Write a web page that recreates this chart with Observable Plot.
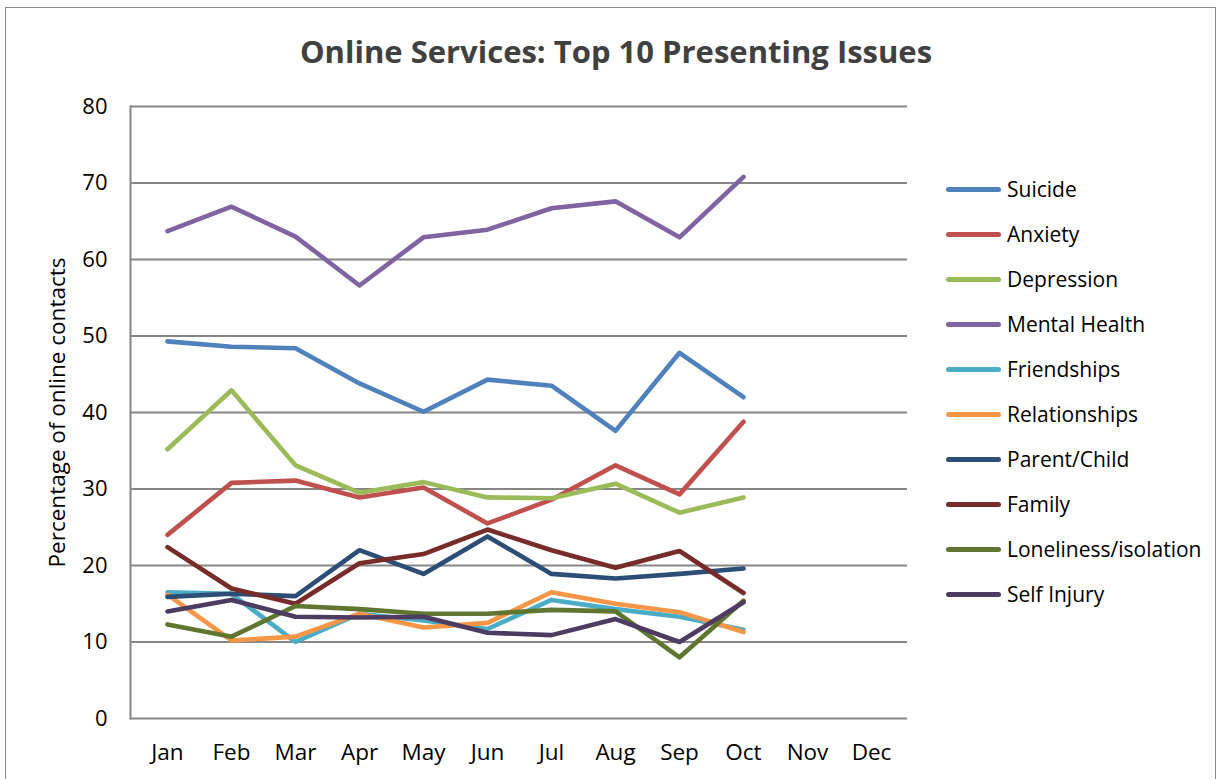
<!DOCTYPE html>
<html>
<head>
<meta charset="utf-8">
<script src="https://cdn.jsdelivr.net/npm/d3@7"></script>
<script src="https://cdn.jsdelivr.net/npm/@observablehq/plot@0.6"></script>
<style>
  html, body { margin: 0; padding: 0; background: #fff; }
  #wrap { position: relative; width: 1220px; height: 779px; overflow: hidden; font-family: "Open Sans", sans-serif; }
  #border { position: absolute; left: 5px; top: 7px; width: 1211px; height: 800px; border: 1.5px solid #8a8a8a; box-sizing: border-box; }
  #title { position: absolute; left: 616px; top: 51px; transform: translate(-50%, -50%); font-weight: 700; font-size: 31px; color: #404040; white-space: nowrap; }
  #chart { position: absolute; left: 0; top: 0; }
  #legend { position: absolute; left: 946px; top: 0; }
  .item { position: absolute; left: 0; height: 30px; display: flex; align-items: center; white-space: nowrap; font-size: 21px; color: #000; }
  .sw { width: 55px; height: 5px; border-radius: 3px; margin-right: 6px; }
</style>
</head>
<body>
<div id="wrap">
  <div id="border"></div>
  <div id="chart"></div>
  <div id="title">Online Services: Top 10 Presenting Issues</div>
  <div id="legend"></div>
</div>
<script>
const months = ["Jan","Feb","Mar","Apr","May","Jun","Jul","Aug","Sep","Oct","Nov","Dec"];
const seriesNames = ["Suicide","Anxiety","Depression","Mental Health","Friendships","Relationships","Parent/Child","Family","Loneliness/isolation","Self Injury"];
const seriesColors = ["#4F81BD","#C0504D","#9BBB59","#8064A2","#4BACC6","#F79646","#2C4D75","#772C2A","#5F7530","#4D3B62"];
const yTicks = [0,10,20,30,40,50,60,70,80];

// Jan..Oct values (Nov, Dec have no data)
const suicide       = [49.3, 48.6, 48.4, 43.8, 40.1, 44.3, 43.5, 37.6, 47.8, 42.0];
const anxiety       = [24.0, 30.8, 31.1, 28.9, 30.2, 25.5, 28.6, 33.1, 29.3, 38.8];
const depression    = [35.2, 42.9, 33.1, 29.5, 30.9, 28.9, 28.8, 30.7, 26.9, 28.9];
const mentalHealth  = [63.7, 66.9, 63.0, 56.6, 62.9, 63.9, 66.7, 67.6, 62.9, 70.8];
const friendships   = [16.5, 16.3, 10.0, 13.7, 12.8, 11.7, 15.5, 14.3, 13.3, 11.6];
const relationships = [16.2, 10.2, 10.7, 13.7, 11.9, 12.5, 16.5, 15.0, 13.9, 11.3];
const parentChild   = [15.9, 16.3, 16.0, 22.0, 18.9, 23.8, 18.9, 18.3, 18.9, 19.6];
const family        = [22.4, 17.0, 15.0, 20.3, 21.5, 24.7, 22.0, 19.7, 21.9, 16.4];
const loneliness    = [12.3, 10.7, 14.7, 14.3, 13.7, 13.7, 14.2, 14.0, 8.0, 15.4];
const selfInjury    = [14.0, 15.5, 13.3, 13.2, 13.3, 11.2, 10.9, 13.0, 10.0, 15.2];

const seriesValues = [suicide, anxiety, depression, mentalHealth, friendships, relationships, parentChild, family, loneliness, selfInjury];

const data = [];
seriesNames.forEach((name, i) => {
  seriesValues[i].forEach((v, j) => data.push({series: name, month: months[j], value: v}));
});

const chart = Plot.plot({
  width: 1220,
  height: 779,
  marginLeft: 130,
  marginRight: 313,
  marginTop: 106,
  marginBottom: 61,
  style: {fontFamily: "Open Sans, sans-serif", color: "#000", background: "transparent"},
  x: {type: "point", domain: months, padding: 0.5, label: null},
  y: {domain: [0, 80], label: null},
  color: {domain: seriesNames, range: seriesColors},
  marks: [
    Plot.gridY(yTicks, {stroke: "#868686", strokeOpacity: 1, strokeWidth: 2}),
    Plot.frame({anchor: "left", stroke: "#868686", strokeWidth: 2}),
    Plot.axisY(yTicks, {tickSize: 0, tickPadding: 23, fontSize: 22, label: null, fill: "#000"}),
    Plot.axisX({tickSize: 0, tickPadding: 26, fontSize: 22.5, label: null, fill: "#000"}),
    Plot.text(["Percentage of online contacts"], {frameAnchor: "left", textAnchor: "middle", rotate: -90, dx: -73, fontSize: 22.5, fill: "#000"}),
    Plot.lineY(data, {x: "month", y: "value", z: "series", stroke: "series", strokeWidth: 4.6, strokeLinecap: "round", strokeLinejoin: "round"})
  ]
});
document.getElementById("chart").appendChild(chart);

const legend = document.getElementById("legend");
seriesNames.forEach((name, i) => {
  const item = document.createElement("div");
  item.className = "item";
  item.style.top = (189 + 45 * i - 15) + "px";
  const sw = document.createElement("div");
  sw.className = "sw";
  sw.style.background = seriesColors[i];
  const label = document.createElement("span");
  label.textContent = name;
  item.appendChild(sw);
  item.appendChild(label);
  legend.appendChild(item);
});
</script>
</body>
</html>
